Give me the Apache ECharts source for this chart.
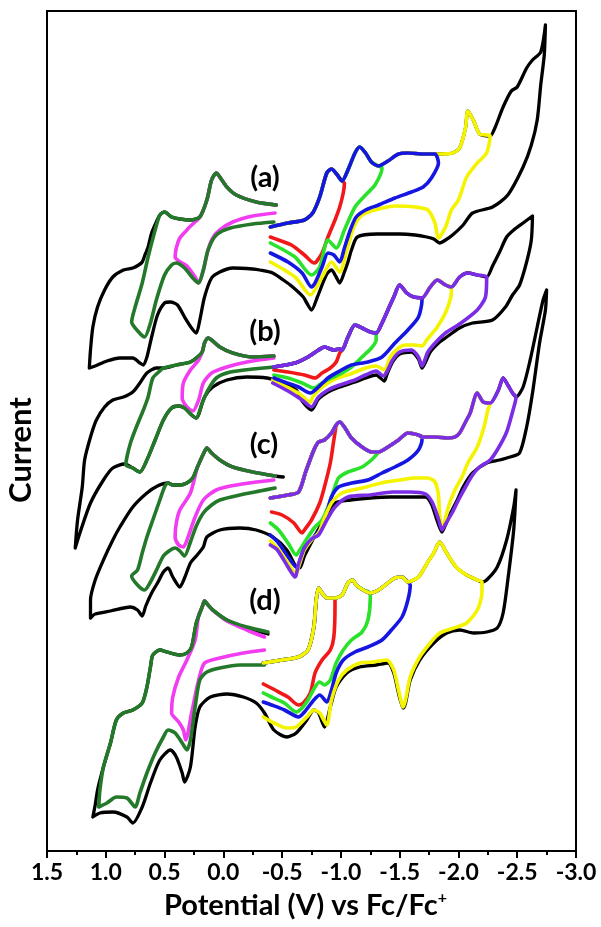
<!DOCTYPE html>
<html><head><meta charset="utf-8">
<script src="https://cdn.jsdelivr.net/npm/echarts/dist/echarts.min.js"></script>
<style>html,body{margin:0;padding:0;background:#fff}#chart{width:601px;height:927px}</style>
</head><body><div id="chart"></div>
<script>
// ---- axis ticks ----
const xTicks = [1.5, 1.0, 0.5, 0.0, -0.5, -1.0, -1.5, -2.0, -2.5, -3.0];
const panelLabels = ['(a)', '(b)', '(c)', '(d)'];

// ---- Panel (a): potential (V) vs current (a.u.) ----
const fwdA = [[-0.40,624],[-0.55,628],[-0.69,631],[-0.76,638],[-0.82,654],[-0.88,678],[-0.92,682],[-0.97,676],[-1.01,670],[-1.06,681],[-1.12,698],[-1.16,704],[-1.21,698],[-1.26,689],[-1.32,685],[-1.40,690],[-1.49,697],[-1.57,698],[-1.70,697],[-1.80,697],[-1.84,697],[-1.95,698],[-2.01,703],[-2.06,723],[-2.08,740],[-2.13,730],[-2.18,717],[-2.27,715],[-2.31,723],[-2.38,744],[-2.45,760],[-2.50,764],[-2.58,783],[-2.63,791],[-2.70,799],[-2.74,826]];
const redBackA = [[-1.03,668],[-1.02,658],[-0.99,644],[-0.95,631],[-0.89,614],[-0.84,598],[-0.79,589],[-0.77,588],[-0.69,596],[-0.58,606],[-0.47,611],[-0.40,614]];
const greenBackA = [[-1.35,683],[-1.29,666],[-1.21,656],[-1.12,644],[-1.03,621],[-0.96,603],[-0.89,611],[-0.82,584],[-0.75,576],[-0.61,594],[-0.40,608]];
const blueBackA = [[-1.83,688],[-1.77,673],[-1.70,664],[-1.60,659],[-1.46,653],[-1.32,646],[-1.21,641],[-1.13,634],[-1.08,621],[-1.03,603],[-0.99,589],[-0.94,596],[-0.89,598],[-0.84,584],[-0.78,568],[-0.75,564],[-0.67,578],[-0.55,589],[-0.40,598]];
const yellowBackA = [[-2.27,715],[-2.24,698],[-2.16,688],[-2.07,674],[-2.00,651],[-1.94,641],[-1.89,624],[-1.83,613],[-1.80,628],[-1.74,641],[-1.63,644],[-1.46,645],[-1.29,641],[-1.18,636],[-1.11,624],[-1.05,601],[-0.99,579],[-0.92,589],[-0.84,574],[-0.74,556],[-0.61,574],[-0.40,589]];
const blackRetA = [[-2.74,826],[-2.73,796],[-2.70,766],[-2.67,731],[-2.62,706],[-2.55,684],[-2.42,656],[-2.29,644],[-2.12,638],[-2.04,626],[-1.95,616],[-1.89,611],[-1.84,608],[-1.79,612],[-1.73,614],[-1.63,616],[-1.50,617],[-1.31,617],[-1.14,614],[-1.09,601],[-1.06,589],[-1.03,579],[-0.99,568],[-0.96,574],[-0.92,581],[-0.88,577],[-0.84,566],[-0.80,554],[-0.75,541],[-0.71,548],[-0.68,554],[-0.58,565],[-0.51,571],[-0.42,578],[-0.31,581],[-0.25,582],[-0.08,583],[0.03,579],[0.10,573],[0.16,554],[0.20,531],[0.23,518],[0.27,523],[0.33,534],[0.39,546],[0.45,549],[0.50,548],[0.56,536],[0.61,514],[0.65,494],[0.68,486],[0.71,488],[0.77,493],[0.88,493],[0.99,490],[1.09,485],[1.14,483],[1.13,501],[1.11,524],[1.07,544],[1.01,561],[0.94,574],[0.85,581],[0.77,583],[0.72,586],[0.69,589],[0.67,595],[0.64,604],[0.61,618],[0.57,629],[0.54,636],[0.50,639],[0.44,634],[0.37,632],[0.28,631],[0.20,634],[0.14,651],[0.10,671],[0.06,678],[0.03,674],[-0.03,664],[-0.11,656],[-0.28,649],[-0.45,646]];
const dkGreenA = [[-0.45,646],[-0.28,649],[-0.11,656],[-0.03,664],[0.03,674],[0.06,678],[0.10,671],[0.14,651],[0.20,634],[0.28,631],[0.37,632],[0.44,634],[0.50,639],[0.54,636],[0.58,621],[0.64,594],[0.69,568],[0.75,544],[0.78,529],[0.72,519],[0.67,514],[0.62,528],[0.57,551],[0.50,576],[0.44,586],[0.40,588],[0.33,583],[0.26,573],[0.21,568],[0.17,581],[0.13,601],[0.06,616],[-0.06,623],[-0.25,627],[-0.43,629]];
const magentaA = [[-0.45,646],[-0.28,649],[-0.11,656],[-0.03,664],[0.03,674],[0.06,678],[0.10,671],[0.14,651],[0.20,634],[0.26,627],[0.31,621],[0.37,613],[0.40,603],[0.41,594],[0.38,590],[0.31,585],[0.24,574],[0.21,568],[0.17,581],[0.13,601],[0.09,613],[0.03,621],[-0.08,629],[-0.25,635],[-0.44,638]];

// ---- Panel (b) ----
const fwdB = [[-0.43,484],[-0.61,488],[-0.72,494],[-0.81,501],[-0.86,504],[-0.94,501],[-0.99,502],[-1.01,501],[-1.06,514],[-1.12,526],[-1.18,523],[-1.25,519],[-1.30,518],[-1.35,528],[-1.40,541],[-1.45,554],[-1.50,566],[-1.56,558],[-1.62,554],[-1.69,553],[-1.76,564],[-1.82,571],[-1.89,566],[-1.94,564],[-2.01,574],[-2.08,578],[-2.16,576],[-2.24,574],[-2.29,585],[-2.35,599],[-2.41,614],[-2.47,621],[-2.55,628],[-2.63,635]];
const redBackB = [[-1.01,501],[-0.99,498],[-0.96,489],[-0.91,483],[-0.84,478],[-0.78,473],[-0.69,476],[-0.55,479],[-0.43,481]];
const greenBackB = [[-1.30,518],[-1.30,511],[-1.26,503],[-1.18,494],[-1.09,484],[-1.01,478],[-0.92,473],[-0.84,468],[-0.77,463],[-0.67,468],[-0.55,473],[-0.43,476]];
const blueBackB = [[-1.69,553],[-1.69,551],[-1.66,534],[-1.57,521],[-1.46,508],[-1.35,494],[-1.23,489],[-1.09,486],[-0.99,480],[-0.89,473],[-0.81,464],[-0.74,458],[-0.64,464],[-0.52,469],[-0.43,473]];
const yellowBackB = [[-1.94,564],[-1.94,559],[-1.90,541],[-1.82,524],[-1.73,511],[-1.69,505],[-1.63,506],[-1.55,506],[-1.49,503],[-1.42,494],[-1.37,481],[-1.30,485],[-1.21,483],[-1.08,477],[-0.95,472],[-0.84,464],[-0.76,454],[-0.74,449],[-0.65,457],[-0.54,464],[-0.42,471]];
const purpleBackB = [[-2.24,574],[-2.23,554],[-2.16,541],[-2.01,527],[-1.90,519],[-1.81,509],[-1.74,499],[-1.69,485],[-1.66,494],[-1.60,501],[-1.50,499],[-1.44,491],[-1.39,479],[-1.36,475],[-1.30,480],[-1.21,476],[-1.12,471],[-0.99,466],[-0.89,461],[-0.81,454],[-0.75,444],[-0.67,451],[-0.55,460],[-0.42,468]];
const blackRetB = [[-2.63,635],[-2.62,611],[-2.58,589],[-2.52,566],[-2.46,556],[-2.40,544],[-2.29,531],[-2.12,528],[-2.01,523],[-1.90,514],[-1.84,509],[-1.76,499],[-1.69,483],[-1.66,492],[-1.60,499],[-1.50,497],[-1.44,489],[-1.39,476],[-1.37,470],[-1.30,476],[-1.21,473],[-1.12,469],[-0.99,464],[-0.89,459],[-0.81,452],[-0.75,441],[-0.67,450],[-0.62,461],[-0.48,469],[-0.37,473],[-0.20,474],[-0.03,471],[0.09,464],[0.16,454],[0.23,433],[0.27,436],[0.33,443],[0.38,445],[0.44,443],[0.51,431],[0.58,411],[0.65,391],[0.71,379],[0.77,383],[0.84,387],[0.94,383],[1.02,371],[1.13,348],[1.22,318],[1.26,303],[1.24,331],[1.20,364],[1.18,391],[1.13,414],[1.08,431],[1.01,444],[0.94,451],[0.85,454],[0.77,459],[0.71,468],[0.65,478],[0.57,483],[0.51,483],[0.40,486],[0.28,489],[0.23,493],[0.18,499],[0.16,508],[0.13,513],[0.10,511],[0.03,504],[-0.08,498],[-0.25,494],[-0.43,495]];
const dkGreenB = [[-0.43,495],[-0.25,494],[-0.08,498],[0.03,504],[0.10,511],[0.13,513],[0.16,508],[0.18,499],[0.23,493],[0.28,489],[0.40,486],[0.51,483],[0.55,479],[0.60,473],[0.64,454],[0.68,441],[0.74,424],[0.79,408],[0.82,394],[0.83,386],[0.77,383],[0.71,379],[0.65,391],[0.58,411],[0.51,431],[0.44,443],[0.38,445],[0.33,443],[0.27,436],[0.23,433],[0.18,448],[0.13,461],[0.06,473],[-0.06,479],[-0.25,482],[-0.43,484]];
const magentaB = [[-0.43,495],[-0.25,494],[-0.08,498],[0.03,504],[0.10,511],[0.13,513],[0.16,508],[0.18,499],[0.21,491],[0.28,481],[0.34,468],[0.35,453],[0.31,444],[0.26,440],[0.21,451],[0.17,468],[0.10,478],[-0.03,484],[-0.20,489],[-0.43,493]];

// ---- Panel (c) ----
const fwdC = [[-0.40,353],[-0.55,356],[-0.64,359],[-0.70,379],[-0.77,401],[-0.81,409],[-0.86,411],[-0.92,418],[-0.96,426],[-0.99,429],[-1.03,424],[-1.09,413],[-1.18,404],[-1.26,399],[-1.32,399],[-1.40,404],[-1.49,411],[-1.57,418],[-1.66,416],[-1.69,414],[-1.80,414],[-1.91,413],[-1.97,414],[-2.01,418],[-2.06,429],[-2.10,438],[-2.16,458],[-2.21,449],[-2.27,448],[-2.34,461],[-2.38,473],[-2.42,466],[-2.46,458],[-2.49,454],[-2.55,464],[-2.61,491],[-2.67,524],[-2.72,551],[-2.75,561]];
const redBackC = [[-0.96,426],[-0.94,411],[-0.91,388],[-0.86,364],[-0.82,348],[-0.75,331],[-0.69,321],[-0.67,318],[-0.60,328],[-0.50,336],[-0.41,339]];
const greenBackC = [[-1.32,399],[-1.30,396],[-1.26,391],[-1.18,384],[-1.06,379],[-0.98,373],[-0.94,361],[-0.89,344],[-0.84,331],[-0.78,324],[-0.72,314],[-0.65,301],[-0.62,296],[-0.55,308],[-0.47,321],[-0.40,328]];
const blueBackC = [[-1.69,414],[-1.69,411],[-1.66,401],[-1.57,391],[-1.46,384],[-1.35,378],[-1.23,371],[-1.09,368],[-0.98,364],[-0.92,354],[-0.88,338],[-0.84,324],[-0.77,314],[-0.69,303],[-0.62,284],[-0.55,294],[-0.47,308],[-0.40,316]];
const yellowBackC = [[-2.27,448],[-2.25,441],[-2.22,425],[-2.16,404],[-2.08,388],[-2.03,374],[-1.97,361],[-1.92,346],[-1.88,329],[-1.86,323],[-1.84,336],[-1.83,356],[-1.80,369],[-1.74,373],[-1.63,373],[-1.50,371],[-1.38,369],[-1.18,363],[-1.01,358],[-0.92,348],[-0.86,333],[-0.81,318],[-0.75,311],[-0.69,301],[-0.64,284],[-0.62,277],[-0.55,288],[-0.46,303],[-0.40,310]];
const purpleBackC = [[-2.49,454],[-2.46,439],[-2.41,419],[-2.34,403],[-2.27,391],[-2.18,384],[-2.12,376],[-2.06,364],[-2.00,351],[-1.95,339],[-1.89,327],[-1.86,321],[-1.83,332],[-1.78,348],[-1.72,357],[-1.59,359],[-1.44,359],[-1.25,356],[-1.06,354],[-0.95,344],[-0.88,331],[-0.81,316],[-0.75,312],[-0.69,303],[-0.64,287],[-0.61,274],[-0.55,284],[-0.46,301],[-0.40,306]];
const blackRetC = [[-2.75,561],[-2.74,541],[-2.69,508],[-2.63,458],[-2.58,424],[-2.52,398],[-2.44,394],[-2.35,391],[-2.24,388],[-2.12,378],[-2.04,364],[-1.99,351],[-1.93,337],[-1.89,326],[-1.86,319],[-1.82,330],[-1.77,347],[-1.72,354],[-1.59,354],[-1.42,354],[-1.25,353],[-1.08,351],[-0.95,348],[-0.88,337],[-0.82,324],[-0.76,311],[-0.69,295],[-0.65,283],[-0.62,284],[-0.54,301],[-0.42,314],[-0.28,321],[-0.14,323],[0.03,321],[0.14,314],[0.17,304],[0.23,295],[0.28,288],[0.33,273],[0.37,264],[0.43,274],[0.47,283],[0.51,279],[0.56,268],[0.61,258],[0.66,245],[0.69,235],[0.73,241],[0.79,244],[0.96,240],[1.09,237],[1.13,233],[1.13,251],[1.09,271],[1.02,291],[0.94,311],[0.88,324],[0.77,344],[0.65,358],[0.56,365],[0.47,368],[0.43,366],[0.37,366],[0.31,368],[0.26,373],[0.22,384],[0.17,397],[0.14,403],[0.10,398],[0.03,391],[-0.08,384],[-0.25,379],[-0.44,375],[-0.51,374]];
const dkGreenC = [[-0.44,375],[-0.25,379],[-0.08,384],[0.03,391],[0.10,398],[0.14,403],[0.17,397],[0.22,384],[0.26,373],[0.31,368],[0.37,366],[0.43,366],[0.47,368],[0.50,364],[0.54,351],[0.60,331],[0.65,314],[0.69,298],[0.73,281],[0.78,275],[0.73,266],[0.67,261],[0.62,269],[0.56,283],[0.51,295],[0.45,301],[0.41,303],[0.37,300],[0.33,295],[0.28,309],[0.23,325],[0.17,338],[0.10,346],[0.03,351],[-0.14,356],[-0.31,360],[-0.44,363]];
const magentaC = [[-0.44,375],[-0.25,379],[-0.08,384],[0.03,391],[0.10,398],[0.14,403],[0.17,397],[0.22,384],[0.28,358],[0.37,341],[0.40,328],[0.41,314],[0.38,306],[0.34,304],[0.30,314],[0.24,334],[0.17,351],[0.06,361],[-0.11,366],[-0.28,369],[-0.43,371]];

// ---- Panel (d) ----
const fwdD = [[-0.34,188],[-0.50,191],[-0.64,194],[-0.72,201],[-0.77,224],[-0.79,251],[-0.81,263],[-0.84,258],[-0.88,253],[-0.95,253],[-1.01,256],[-1.06,268],[-1.10,271],[-1.13,266],[-1.19,261],[-1.25,258],[-1.32,261],[-1.40,268],[-1.46,273],[-1.52,274],[-1.57,269],[-1.66,274],[-1.70,281],[-1.74,289],[-1.79,298],[-1.84,309],[-1.90,298],[-1.98,284],[-2.07,276],[-2.16,271],[-2.20,269],[-2.24,271],[-2.33,284],[-2.41,311],[-2.47,344],[-2.49,361]];
const redBackD = [[-0.95,253],[-0.95,246],[-0.94,214],[-0.91,201],[-0.84,191],[-0.78,178],[-0.74,158],[-0.68,148],[-0.64,146],[-0.55,154],[-0.44,161],[-0.34,167]];
const greenBackD = [[-1.25,258],[-1.25,253],[-1.23,231],[-1.18,219],[-1.09,211],[-1.02,201],[-0.96,188],[-0.91,171],[-0.86,166],[-0.82,169],[-0.78,164],[-0.72,151],[-0.67,143],[-0.62,139],[-0.52,148],[-0.41,154],[-0.34,158]];
const blueBackD = [[-1.59,266],[-1.57,251],[-1.52,234],[-1.43,221],[-1.35,211],[-1.23,204],[-1.12,199],[-1.02,191],[-0.96,178],[-0.92,161],[-0.88,149],[-0.82,156],[-0.77,151],[-0.69,139],[-0.64,134],[-0.52,141],[-0.41,146],[-0.34,149]];
const yellowBackD = [[-2.20,269],[-2.20,258],[-2.16,241],[-2.07,228],[-1.96,223],[-1.84,218],[-1.76,208],[-1.67,194],[-1.59,174],[-1.55,151],[-1.53,144],[-1.49,161],[-1.45,181],[-1.39,191],[-1.28,189],[-1.16,188],[-1.05,181],[-0.98,171],[-0.92,151],[-0.88,126],[-0.82,138],[-0.77,141],[-0.71,134],[-0.62,124],[-0.54,123],[-0.43,128],[-0.34,134]];
const blackRetD = [[-2.49,361],[-2.47,321],[-2.42,271],[-2.38,238],[-2.33,223],[-2.24,219],[-2.13,218],[-2.01,221],[-1.90,218],[-1.79,208],[-1.67,191],[-1.59,171],[-1.55,148],[-1.53,143],[-1.49,158],[-1.45,178],[-1.40,188],[-1.30,186],[-1.16,184],[-1.05,178],[-0.96,164],[-0.91,144],[-0.86,124],[-0.81,138],[-0.77,141],[-0.71,131],[-0.62,118],[-0.54,114],[-0.43,121],[-0.35,138],[-0.28,148],[-0.17,154],[-0.03,157],[0.11,154],[0.20,144],[0.24,124],[0.28,84],[0.33,69],[0.35,78],[0.40,94],[0.45,101],[0.54,91],[0.62,68],[0.69,44],[0.77,28],[0.82,34],[0.94,39],[1.05,38],[1.11,34],[1.09,46],[1.07,61],[1.02,84],[0.96,108],[0.91,131],[0.85,138],[0.77,141],[0.69,148],[0.65,164],[0.62,184],[0.60,196],[0.54,201],[0.48,199],[0.37,196],[0.31,198],[0.27,204],[0.23,228],[0.18,244],[0.16,250],[0.13,246],[0.09,241],[-0.03,231],[-0.20,223],[-0.38,217]];
const dkGreenD = [[-0.38,219],[-0.20,224],[-0.03,231],[0.09,241],[0.13,246],[0.16,250],[0.18,244],[0.23,228],[0.27,204],[0.31,198],[0.37,196],[0.48,199],[0.54,201],[0.60,196],[0.62,184],[0.65,164],[0.69,148],[0.77,141],[0.85,138],[0.91,131],[0.96,108],[1.02,84],[1.05,61],[1.06,44],[0.99,48],[0.91,54],[0.82,53],[0.75,44],[0.71,58],[0.65,78],[0.58,98],[0.51,114],[0.47,121],[0.41,118],[0.35,108],[0.31,101],[0.28,111],[0.24,144],[0.20,171],[0.14,179],[0.03,183],[-0.14,186],[-0.35,186]];
const magentaD = [[-0.35,214],[-0.20,221],[-0.03,230],[0.09,241],[0.13,246],[0.16,250],[0.18,244],[0.21,236],[0.24,211],[0.31,191],[0.38,174],[0.43,154],[0.44,138],[0.38,129],[0.34,121],[0.32,111],[0.27,138],[0.21,171],[0.16,188],[0.03,193],[-0.17,198],[-0.35,201]];

// ---- colours ----
const C = {black:'#000000', dkgreen:'#24782a', magenta:'#f23cf2', red:'#f01818', green:'#2ae22a', blue:'#1616e2', yellow:'#f4f400', purple:'#7b2de6'};
const FONT = 'Lato, "Open Sans", "DejaVu Sans", sans-serif';

function loop(fwd, back) {
  const sw = back[0][0];
  const out = fwd.filter(p => p[0] >= sw);
  back.forEach(p => {
    const l = out[out.length - 1];
    if (!l || l[0] !== p[0] || l[1] !== p[1]) out.push(p);
  });
  return out;
}
function line(name, data, color, w) {
  return {name, type:'line', data, showSymbol:false, symbol:'none', smooth:0.25,
    lineStyle:{color, width:w || 3.5, cap:'round', join:'round'}, silent:true, animation:false};
}
const WK = 3.3, WC = 3.6;

const series = [
  line('black a', loop(fwdA, blackRetA), C.black, WK),
  line('black b', loop(fwdB, blackRetB), C.black, WK),
  line('black c', loop(fwdC, blackRetC), C.black, WK),
  line('black d', loop(fwdD, blackRetD), C.black, WK),
  // (a)
  line('magenta a', magentaA, C.magenta, WC),
  line('dkgreen a', dkGreenA, C.dkgreen, WC),
  line('yellow a', loop(fwdA, yellowBackA), C.yellow, WC),
  line('red a', loop(fwdA, redBackA), C.red, WC),
  line('green a', loop(fwdA, greenBackA), C.green, WC),
  line('blue a', loop(fwdA, blueBackA), C.blue, WC),
  // (b)
  line('magenta b', magentaB, C.magenta, WC),
  line('dkgreen b', dkGreenB, C.dkgreen, WC),
  line('yellow b', loop(fwdB, yellowBackB), C.yellow, WC),
  line('red b', loop(fwdB, redBackB), C.red, WC),
  line('green b', loop(fwdB, greenBackB), C.green, WC),
  line('blue b', loop(fwdB, blueBackB), C.blue, WC),
  line('purple b', loop(fwdB, purpleBackB), C.purple, WC),
  // (c)
  line('magenta c', magentaC, C.magenta, WC),
  line('dkgreen c', dkGreenC, C.dkgreen, WC),
  line('red c', loop(fwdC, redBackC), C.red, WC),
  line('green c', loop(fwdC, greenBackC), C.green, WC),
  line('blue c', loop(fwdC, blueBackC), C.blue, WC),
  line('yellow c', loop(fwdC, yellowBackC), C.yellow, WC),
  line('purple c', loop(fwdC, purpleBackC), C.purple, WC),
  // (d)
  line('magenta d', magentaD, C.magenta, WC),
  line('dkgreen d', dkGreenD, C.dkgreen, WC),
  line('red d', loop(fwdD, redBackD), C.red, WC),
  line('green d', loop(fwdD, greenBackD), C.green, WC),
  line('blue d', loop(fwdD, blueBackD), C.blue, WC),
  line('yellow d', loop(fwdD, yellowBackD), C.yellow, WC)
];

const labelPos = [[265,178],[265,332],[264,445],[265,601]];
const graphic = panelLabels.map((t, i) => ({
  type:'text', x:labelPos[i][0], y:labelPos[i][1], z:100,
  style:{text:t, fill:'#000', font:'bold 29px ' + FONT, align:'center', verticalAlign:'middle'}
}));
graphic.push({type:'text', x:21, y:450, rotation:Math.PI/2, z:100,
  style:{text:'Current', fill:'#000', font:'bold 31px ' + FONT, align:'center', verticalAlign:'middle'}});

const chart = echarts.init(document.getElementById('chart'), null, {renderer:'canvas'});
chart.setOption({
  animation:false,
  backgroundColor:'#fff',
  grid:{left:47, right:25, top:11, bottom:76, show:true, borderColor:'#000', borderWidth:2, backgroundColor:'transparent'},
  xAxis:{
    type:'value', min:-3, max:1.5, interval:0.5, inverse:true,
    axisLine:{show:true, onZero:false, lineStyle:{color:'#000', width:2}},
    axisTick:{show:true, length:7, lineStyle:{color:'#000', width:2}},
    minorTick:{show:true, splitNumber:2, length:4, lineStyle:{color:'#000', width:2}},
    splitLine:{show:false},
    axisLabel:{color:'#000', fontFamily:FONT, fontWeight:'bold', fontSize:23, margin:10,
      formatter: v => { const m = xTicks.find(t => Math.abs(t - v) < 1e-6); return (m === undefined ? v : m).toFixed(1); }},
    name:'Potential (V) vs Fc/Fc{sup|+}', nameLocation:'middle', nameGap:39,
    nameTextStyle:{color:'#000', fontFamily:FONT, fontWeight:'bold', fontSize:29, lineHeight:32, padding:[0,12,0,0],
      rich:{sup:{fontFamily:FONT, fontWeight:'bold', fontSize:16, verticalAlign:'top', lineHeight:16, color:'#000'}}}
  },
  yAxis:{type:'value', min:0, max:840, axisLine:{show:false}, axisTick:{show:false}, axisLabel:{show:false}, splitLine:{show:false}},
  graphic,
  series
});
</script></body></html>
